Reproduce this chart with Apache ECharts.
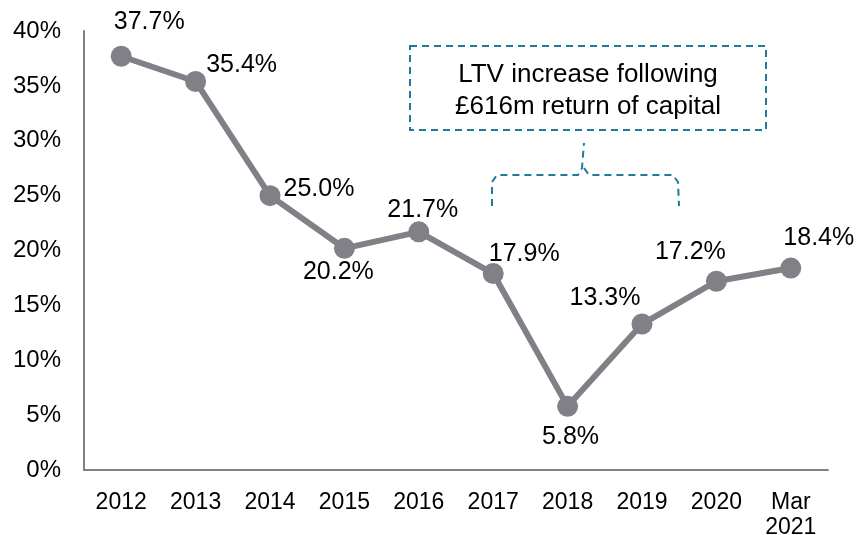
<!DOCTYPE html>
<html>
<head>
<meta charset="utf-8">
<script src="https://cdn.jsdelivr.net/npm/echarts@6/dist/echarts.min.js"></script>
<style>
  html, body { margin: 0; padding: 0; background: #fff; }
  #chart { width: 856px; height: 535px; }
</style>
</head>
<body>
<div id="chart"></div>
<script>
const categories = ["2012", "2013", "2014", "2015", "2016", "2017", "2018", "2019", "2020", "Mar\n2021"];
const ltv = [37.7, 35.4, 25.0, 20.2, 21.7, 17.9, 5.8, 13.3, 17.2, 18.4];
const yTicks = [0, 5, 10, 15, 20, 25, 30, 35, 40];

// label offsets from each point centre (px)
const labelOffsets = [[28, -34], [46, -16], [49, -7], [-6, 24], [4, -22], [31, -19], [3, 31], [-37, -26], [-26, -29], [28, -30]];

const grey = "#808086";
const teal = "#1f7a99";
const font = "'Liberation Sans', Arial, sans-serif";

const chart = echarts.init(document.getElementById("chart"));

chart.setOption({
  animation: false,
  grid: { left: 84, right: 28, top: 31, bottom: 65, containLabel: false, outerBoundsMode: "none" },
  xAxis: {
    type: "category",
    data: categories,
    axisLine: { lineStyle: { color: grey, width: 2 } },
    axisTick: { show: false },
    axisLabel: { color: "#000", fontSize: 23, fontFamily: font, margin: 20, lineHeight: 25 },
  },
  yAxis: {
    type: "value",
    min: yTicks[0],
    max: yTicks[yTicks.length - 1],
    interval: 5,
    axisLine: { show: true, lineStyle: { color: grey, width: 2 } },
    axisTick: { show: false },
    splitLine: { show: false },
    axisLabel: { color: "#000", fontSize: 24, fontFamily: font, margin: 23, formatter: "{value}%" },
  },
  series: [{
    type: "line",
    data: ltv.map((v, i) => ({
      value: v,
      label: { offset: labelOffsets[i] },
    })),
    symbol: "circle",
    symbolSize: 21,
    lineStyle: { color: grey, width: 6 },
    itemStyle: { color: grey },
    label: {
      show: true,
      position: "inside",
      color: "#000",
      fontSize: 25,
      fontFamily: font,
      formatter: (p) => p.value.toFixed(1) + "%",
    },
  }],
  graphic: [
    {
      type: "rect",
      shape: { x: 410, y: 46, width: 356, height: 84 },
      style: { fill: "none", stroke: teal, lineWidth: 2, lineDash: [7, 5] },
    },
    {
      type: "text",
      x: 588, y: 91,
      style: {
        text: "LTV increase following\n£616m return of capital",
        fill: "#000", font: "26px " + font, align: "center", verticalAlign: "middle", lineHeight: 32,
      },
    },
    {
      type: "polyline",
      shape: { points: [[492, 206], [492, 182], [497, 175], [578, 175], [582, 168], [584, 143]] },
      style: { fill: "none", stroke: teal, lineWidth: 2, lineDash: [7, 5] },
    },
    {
      type: "polyline",
      shape: { points: [[584, 168], [589, 175], [673, 175], [678, 182], [679, 206]] },
      style: { fill: "none", stroke: teal, lineWidth: 2, lineDash: [7, 5] },
    },
  ],
});
</script>
</body>
</html>
